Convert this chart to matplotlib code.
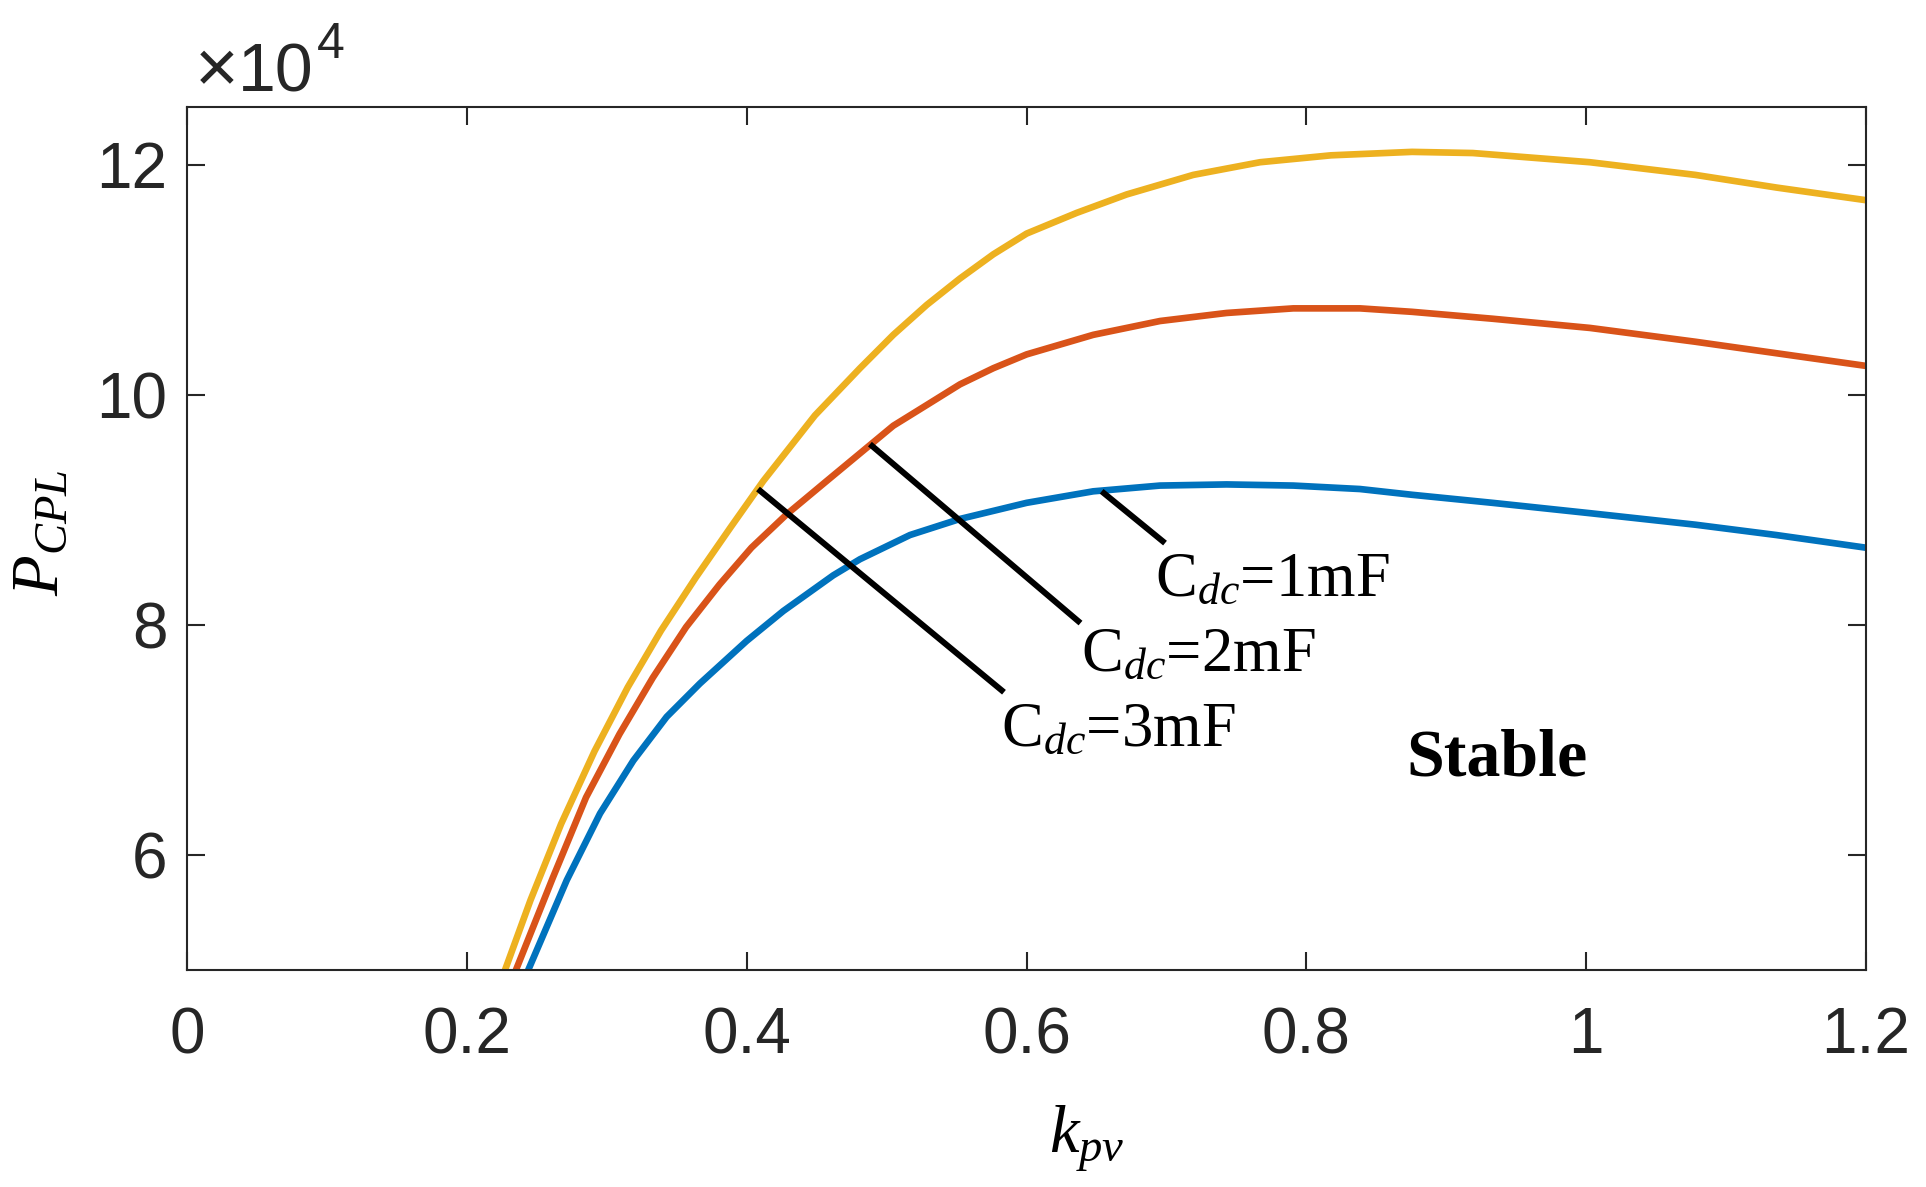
import numpy as np
import matplotlib
matplotlib.use('Agg')
import matplotlib.pyplot as plt

plt.rcParams['font.family'] = ['Liberation Sans', 'DejaVu Sans']
plt.rcParams['mathtext.fontset'] = 'custom'
plt.rcParams['mathtext.rm'] = 'Liberation Serif'
plt.rcParams['mathtext.it'] = 'Liberation Serif:italic'
plt.rcParams['mathtext.bf'] = 'Liberation Serif:bold'

# values, P in units of 1e4
k_3mF = [0.222, 0.2273, 0.2455, 0.2674, 0.2912, 0.315, 0.3388, 0.3636, 0.3884, 0.4119,
         0.4488, 0.481, 0.5048, 0.5287, 0.5525, 0.5763, 0.6001, 0.6359, 0.6716, 0.7192,
         0.7669, 0.8176, 0.8755, 0.9189, 1.0027, 1.078, 1.136, 1.2]
p_3mF = [4.84, 5.0, 5.607, 6.27, 6.90, 7.457, 7.95, 8.41, 8.845, 9.25,
         9.82, 10.23, 10.52, 10.78, 11.01, 11.22, 11.40, 11.58, 11.74, 11.91,
         12.02, 12.08, 12.11, 12.10, 12.02, 11.91, 11.80, 11.69]

k_2mF = [0.230, 0.2351, 0.2614, 0.2852, 0.3091, 0.3329, 0.3567, 0.3806, 0.4034, 0.4286,
         0.4572, 0.481, 0.5048, 0.5287, 0.5525, 0.5763, 0.6001, 0.6477, 0.6954, 0.743,
         0.7907, 0.8383, 0.8755, 0.933, 1.0027, 1.078, 1.136, 1.2]
p_2mF = [4.86, 5.0, 5.80, 6.50, 7.05, 7.54, 7.98, 8.35, 8.67, 8.96,
         9.25, 9.49, 9.73, 9.91, 10.09, 10.23, 10.35, 10.52, 10.64, 10.71,
         10.75, 10.75, 10.72, 10.66, 10.58, 10.46, 10.36, 10.25]

k_1mF = [0.239, 0.2439, 0.2714, 0.2952, 0.319, 0.3428, 0.3666, 0.400, 0.4262, 0.4619,
         0.481, 0.5167, 0.5525, 0.6001, 0.6477, 0.6954, 0.743, 0.7907, 0.8383, 0.8755,
         0.933, 1.0027, 1.078, 1.136, 1.2]
p_1mF = [4.87, 5.0, 5.78, 6.36, 6.82, 7.20, 7.49, 7.86, 8.12, 8.43,
         8.57, 8.78, 8.92, 9.06, 9.16, 9.21, 9.22, 9.21, 9.18, 9.13,
         9.06, 8.97, 8.87, 8.78, 8.67]

# leader lines: (k0, p0, k1, p1) and label anchor (k, p)
labels = [r'C$_{dc}$=1mF', r'C$_{dc}$=2mF', r'C$_{dc}$=3mF']
leaders = [(0.6537, 9.16, 0.699, 8.71),
           (0.4881, 9.57, 0.6386, 8.015),
           (0.4081, 9.18, 0.5839, 7.414)]
label_pos = [(0.692, 8.25), (0.6393, 7.60), (0.5819, 6.94)]

xticks = [0, 0.2, 0.4, 0.6, 0.8, 1, 1.2]
yticks = [6, 8, 10, 12]

blue = '#0072BD'
orange = '#D95319'
yellow = '#EDB120'
axcol = '#262626'

fig = plt.figure(figsize=(19.26, 11.87), dpi=100)
ax = fig.add_axes([187/1926, 217/1187, 1679/1926, 863/1187])

ax.plot(k_1mF, np.array(p_1mF)*1e4, color=blue, lw=4.8, solid_capstyle='butt')
ax.plot(k_2mF, np.array(p_2mF)*1e4, color=orange, lw=4.8, solid_capstyle='butt')
ax.plot(k_3mF, np.array(p_3mF)*1e4, color=yellow, lw=4.8, solid_capstyle='butt')

for (x0, y0, x1, y1), lab, (tx, ty) in zip(leaders, labels, label_pos):
    ax.plot([x0, x1], [y0*1e4, y1*1e4], color='black', lw=4.3, solid_capstyle='butt')
    ax.text(tx, ty*1e4, lab, fontsize=45, family='Liberation Serif',
            ha='left', va='baseline')

ax.text(0.936, 6.83e4, 'Stable', fontsize=49, fontweight='bold',
        family='Liberation Serif', ha='center', va='center')

ax.set_xlim(0, 1.2)
ax.set_ylim(5e4, 12.5e4)
ax.set_xticks(xticks)
ax.set_xticklabels(['0', '0.2', '0.4', '0.6', '0.8', '1', '1.2'])
ax.set_yticks([v*1e4 for v in yticks])
ax.set_yticklabels([str(v) for v in yticks])
ax.tick_params(direction='in', length=13, width=1.5, colors=axcol,
               labelsize=46, top=True, right=True)
ax.tick_params(axis='x', pad=26)
ax.tick_params(axis='y', pad=14)
for s in ax.spines.values():
    s.set_linewidth(1.5)
    s.set_color(axcol)

fig.text(195/1926, 1-92/1187, '×', fontsize=54, color=axcol, va='baseline')
fig.text(238/1926, 1-92/1187, '10', fontsize=49, color=axcol, va='baseline')
fig.text(317/1926, 1-58/1187, '4', fontsize=36, color=axcol, va='baseline')

fig.text(41/1926, 1-533/1187, r'$P_{CPL}$', fontsize=48, rotation=90,
         ha='center', va='center')
fig.text(1087/1926, 1-1139/1187, r'$k_{pv}$', fontsize=48,
         ha='center', va='center')

fig.savefig('out.png', dpi=100)
